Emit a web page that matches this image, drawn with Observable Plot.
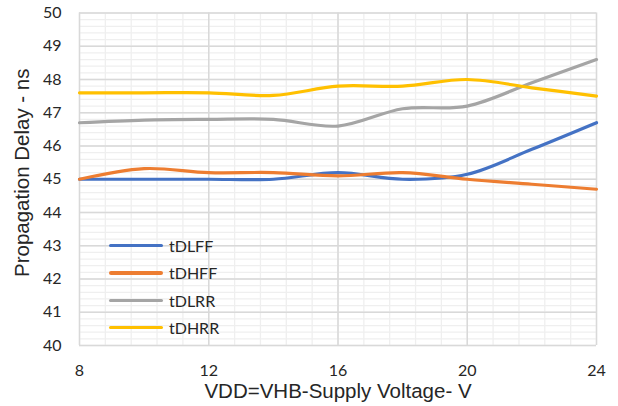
<!DOCTYPE html>
<html>
<head>
<meta charset="utf-8">
<script src="https://cdn.jsdelivr.net/npm/d3@7"></script>
<script src="https://cdn.jsdelivr.net/npm/@observablehq/plot@0.6"></script>
<style>
  html, body { margin: 0; padding: 0; background: #fff; }
  #wrap { position: relative; width: 618px; height: 406px; overflow: hidden; }
  #legend { position: absolute; left: 109px; top: 232px; font-family: Lato, "Noto Sans", sans-serif; font-size: 16px; color: #262626; }
  #legend .row { display: flex; align-items: center; height: 27.3px; }
  #legend .sw { width: 54px; height: 3.2px; border-radius: 2px; margin-right: 6px; }
</style>
</head>
<body>
<div id="wrap"></div>
<script>
const xValues = [8, 10, 12, 14, 16, 18, 20, 22, 24];
const seriesNames = ["tDLFF", "tDHFF", "tDLRR", "tDHRR"];
const tDLFF = [45.0, 45.0, 45.0, 45.0, 45.2, 45.0, 45.15, 45.9, 46.7];
const tDHFF = [45.0, 45.32, 45.2, 45.2, 45.1, 45.2, 45.0, 44.85, 44.7];
const tDLRR = [46.7, 46.78, 46.8, 46.8, 46.6, 47.12, 47.2, 47.9, 48.6];
const tDHRR = [47.6, 47.6, 47.6, 47.52, 47.8, 47.8, 48.0, 47.75, 47.5];
const seriesColors = ["#4472C4", "#ED7D31", "#A5A5A5", "#FFC000"];
const xTicks = [8, 12, 16, 20, 24];
const yTicks = [40, 41, 42, 43, 44, 45, 46, 47, 48, 49, 50];
const xTitle = "VDD=VHB-Supply Voltage- V";
const yTitle = "Propagation Delay - ns";

const seriesValues = [tDLFF, tDHFF, tDLRR, tDHRR];
const data = seriesNames.flatMap((name, i) =>
  xValues.map((x, j) => ({ series: name, x, y: seriesValues[i][j] }))
);
const minorX = d3.range(0, 21).map(i => 8 + i * 0.8);
const minorY = d3.range(0, 51).map(i => 40 + i * 0.2);

const tickFont = "Lato, 'Noto Sans', sans-serif";
const titleFont = "'Liberation Sans', Arial, sans-serif";

const chart = Plot.plot({
  width: 618,
  height: 406,
  marginLeft: 79,
  marginRight: 22,
  marginTop: 12.5,
  marginBottom: 61,
  x: { domain: [8, 24] },
  y: { domain: [40, 50] },
  color: { domain: seriesNames, range: seriesColors },
  style: { fontFamily: tickFont, fontSize: "16px", color: "#262626", background: "#fff" },
  marks: [
    Plot.ruleX(minorX, { stroke: "#efefef", strokeWidth: 1.3 }),
    Plot.ruleY(minorY, { stroke: "#efefef", strokeWidth: 1.3 }),
    Plot.ruleX(xTicks, { stroke: "#d9d9d9", strokeWidth: 1.5 }),
    Plot.ruleY(yTicks, { stroke: "#d9d9d9", strokeWidth: 1.5 }),
    Plot.line(data, { x: "x", y: "y", z: "series", stroke: "series", strokeWidth: 3.2, curve: "cardinal", strokeLinecap: "round" }),
    Plot.axisX({ ticks: xTicks, tickSize: 0, tickPadding: 19, tickFormat: d => String(d), label: null, fontSize: 16 }),
    Plot.axisY({ ticks: yTicks, tickSize: 0, tickPadding: 18, tickFormat: d => String(d), label: null, fontSize: 16 }),
    Plot.text([xTitle], { frameAnchor: "bottom", lineAnchor: "middle", textAnchor: "middle", dy: 46, fontSize: 20.5, fontFamily: titleFont, fill: "#262626" }),
    Plot.text([yTitle], { frameAnchor: "left", lineAnchor: "middle", textAnchor: "middle", dx: -57.5, dy: -6.5, rotate: -90, fontSize: 20.5, fontFamily: titleFont, fill: "#262626" })
  ]
});
const wrap = document.getElementById("wrap");
wrap.appendChild(chart);

const legend = document.createElement("div");
legend.id = "legend";
seriesNames.forEach((name, i) => {
  const row = document.createElement("div");
  row.className = "row";
  const sw = document.createElement("div");
  sw.className = "sw";
  sw.style.background = seriesColors[i];
  const lab = document.createElement("span");
  lab.textContent = name;
  row.appendChild(sw);
  row.appendChild(lab);
  legend.appendChild(row);
});
wrap.appendChild(legend);
</script>
</body>
</html>
